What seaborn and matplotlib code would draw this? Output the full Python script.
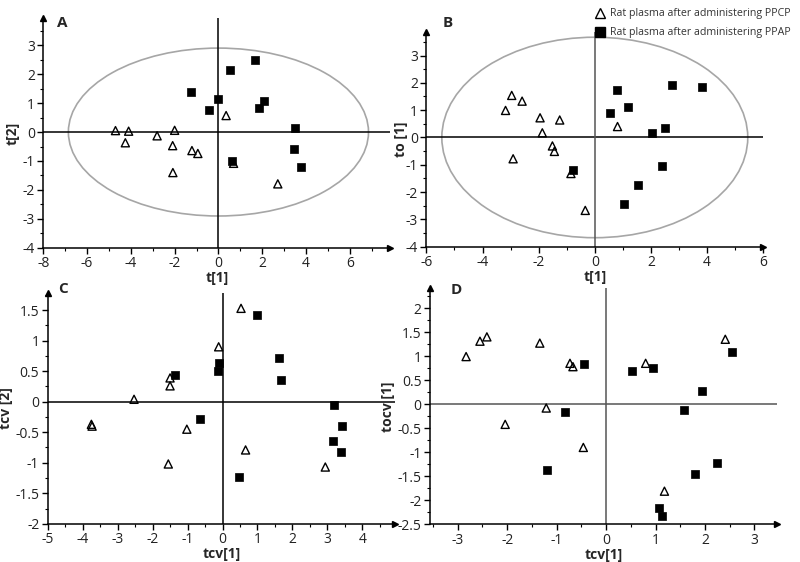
import matplotlib
matplotlib.use("Agg")
import matplotlib.pyplot as plt
import seaborn as sns
from matplotlib.patches import Ellipse
from matplotlib.lines import Line2D
from matplotlib.ticker import MultipleLocator, FuncFormatter

sns.set_style("white")
plt.rcParams["font.family"] = ["Open Sans", "DejaVu Sans"]
plt.rcParams["axes.unicode_minus"] = False

# ── Datos ────────────────────────────────────────────────────────────────
grupos = ["Rat plasma after administering PPCP", "Rat plasma after administering PPAP"]

# A: t[1] vs t[2]
a_ppcp_x = [-4.7, -4.1, -4.25, -2.8, -2.0, -2.09, -2.08, -1.21, -0.94, 0.35, 0.69, 2.71]
a_ppcp_y = [0.05, 0.03, -0.37, -0.13, 0.06, -0.47, -1.4, -0.64, -0.74, 0.57, -1.08, -1.79]
a_ppap_x = [-1.25, -0.45, -0.03, 0.54, 1.66, 1.84, 2.08, 3.48, 3.45, 3.77, 0.6]
a_ppap_y = [1.4, 0.76, 1.13, 2.16, 2.49, 0.82, 1.07, 0.14, -0.57, -1.2, -1.0]
a_elipse = (6.85, 2.9)

# B: t[1] vs to[1]
b_ppcp_x = [-2.96, -2.59, -3.18, -1.95, -1.25, -1.87, -1.51, -1.44, -2.91, -0.85, -0.34, 0.81]
b_ppcp_y = [1.54, 1.33, 0.99, 0.72, 0.64, 0.17, -0.31, -0.51, -0.78, -1.32, -2.67, 0.4]
b_ppap_x = [-0.76, 0.79, 2.74, 3.82, 1.2, 0.55, 2.51, 2.03, 2.38, 1.53, 1.03]
b_ppap_y = [-1.19, 1.75, 1.91, 1.86, 1.1, 0.89, 0.33, 0.16, -1.04, -1.74, -2.44]
b_elipse = (5.45, 3.67)

# C: tcv[1] vs tcv[2]
c_ppcp_x = [-3.75, -3.73, -2.53, -1.5, -1.5, -1.02, -1.55, 0.53, -0.11, 0.66, 2.94]
c_ppcp_y = [-0.37, -0.40, 0.04, 0.39, 0.26, -0.45, -1.02, 1.53, 0.9, -0.79, -1.07]
c_ppap_x = [-1.35, -0.64, 1.0, -0.1, -0.14, 1.61, 1.67, 3.2, 3.42, 3.16, 3.4, 0.47]
c_ppap_y = [0.43, -0.28, 1.42, 0.64, 0.5, 0.71, 0.36, -0.05, -0.39, -0.65, -0.83, -1.23]

# D: tcv[1] vs tocv[1]
d_ppcp_x = [-2.83, -2.55, -2.41, -1.34, -0.73, -0.67, -2.04, -1.21, -0.46, 0.8, 2.41, 1.18]
d_ppcp_y = [0.99, 1.31, 1.40, 1.27, 0.85, 0.78, -0.42, -0.08, -0.9, 0.85, 1.35, -1.81]
d_ppap_x = [-0.44, -0.83, -1.2, 0.52, 0.95, 2.54, 1.93, 1.57, 2.25, 1.79, 1.07, 1.14]
d_ppap_y = [0.83, -0.17, -1.36, 0.7, 0.76, 1.09, 0.27, -0.12, -1.22, -1.46, -2.15, -2.32]

fmt = FuncFormatter(lambda v, p: f"{v:g}")


def panel(ax, px, py, sx, sy, xlim, ylim, xstep, ystep, xlabel, ylabel,
          vcolor="black", hcolor="black", elipse=None, ypad=2):
    ax.set_xlim(*xlim)
    ax.set_ylim(*ylim)
    if elipse:
        ax.add_patch(Ellipse((0, 0), 2 * elipse[0], 2 * elipse[1], fill=False,
                             edgecolor="#a6a6a6", linewidth=1.2, zorder=1))
    ax.axhline(0, color=hcolor, lw=1.1, zorder=2)
    ax.axvline(0, color=vcolor, lw=1.1, zorder=2)

    sns.scatterplot(x=px, y=py, marker="^", s=34, color="black",
                    edgecolor="black", linewidth=1.0, ax=ax, zorder=3)
    ax.collections[-1].set_facecolor("none")
    sns.scatterplot(x=sx, y=sy, marker="s", s=26, color="black",
                    edgecolor="black", linewidth=0.5, ax=ax, zorder=3)

    for s in ["top", "right"]:
        ax.spines[s].set_visible(False)
    for s in ["left", "bottom"]:
        ax.spines[s].set_color("black")
        ax.spines[s].set_linewidth(1.1)
    ax.plot(1, 0, ">k", ms=5, transform=ax.transAxes, clip_on=False)
    ax.plot(0, 1, "^k", ms=5, transform=ax.transAxes, clip_on=False)

    ax.xaxis.set_major_locator(MultipleLocator(xstep))
    ax.xaxis.set_minor_locator(MultipleLocator(xstep / 2))
    ax.yaxis.set_major_locator(MultipleLocator(ystep))
    ax.yaxis.set_minor_locator(MultipleLocator(ystep / 2))
    ax.xaxis.set_major_formatter(fmt)
    ax.yaxis.set_major_formatter(fmt)
    ax.tick_params(which="major", direction="out", length=4, width=1,
                   color="black", labelsize=10, labelcolor="#222222",
                   left=True, bottom=True, pad=2)
    ax.tick_params(which="minor", direction="out", length=2, width=0.8,
                   color="black", left=True, bottom=True)
    ax.set_xlabel(xlabel, fontsize=10, fontweight="bold", labelpad=0)
    ax.set_ylabel(ylabel, fontsize=10, fontweight="bold", labelpad=ypad)
    ax.grid(False)


fig = plt.figure(figsize=(8, 5.62), dpi=100)
ax_a = fig.add_axes([0.054, 0.559, 0.434, 0.409])
ax_b = fig.add_axes([0.533, 0.561, 0.421, 0.382])
ax_c = fig.add_axes([0.0596, 0.068, 0.434, 0.4105])
ax_d = fig.add_axes([0.5375, 0.067, 0.4334, 0.42])

panel(ax_a, a_ppcp_x, a_ppcp_y, a_ppap_x, a_ppap_y, (-8, 7.85), (-4, 3.94),
      2, 1, "t[1]", "t[2]", elipse=a_elipse)
panel(ax_b, b_ppcp_x, b_ppcp_y, b_ppap_x, b_ppap_y, (-6, 6.0), (-4, 3.86),
      2, 1, "t[1]", "to [1]", vcolor="#555555", elipse=b_elipse, ypad=-2)
panel(ax_c, c_ppcp_x, c_ppcp_y, c_ppap_x, c_ppap_y, (-5, 4.93), (-2, 1.78),
      1, 0.5, "tcv[1]", "tcv [2]")
panel(ax_d, d_ppcp_x, d_ppcp_y, d_ppap_x, d_ppap_y, (-3.56, 3.45), (-2.5, 2.41),
      1, 0.5, "tcv[1]", "tocv [1]", vcolor="#555555", hcolor="#555555")

for letra, x, y in [("A", 62, 23), ("B", 448, 23), ("C", 63, 289), ("D", 456, 290)]:
    fig.text(x / 800, 1 - y / 562, letra, fontsize=11, fontweight="bold",
             ha="center", va="center")

handles = [
    Line2D([], [], marker="^", ls="", mfc="none", mec="black", mew=1.0, ms=7),
    Line2D([], [], marker="s", ls="", mfc="black", mec="black", ms=7),
]
fig.legend(handles, grupos, loc="upper left", bbox_to_anchor=(589 / 800, 1 - 4 / 562),
           frameon=False, fontsize=7.7, handletextpad=0.35, labelspacing=0.75,
           handlelength=1.2, borderaxespad=0, labelcolor="#333333")

fig.savefig("out.png", dpi=100)
